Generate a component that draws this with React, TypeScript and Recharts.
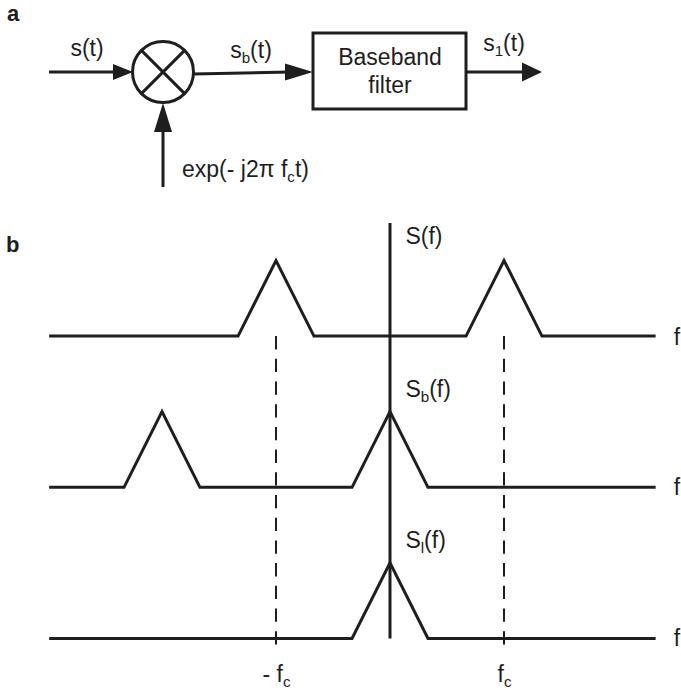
import {
  ComposedChart,
  Line,
  ReferenceArea,
  ReferenceDot,
  ReferenceLine,
  XAxis,
  YAxis,
} from 'recharts';

const INK = '#1e1e1e';
const FONT = '"Liberation Sans", Arial, Helvetica, sans-serif';

// ---- panel a: block diagram (grid units, y grows downward) ----
const signalPaths = [
  [{ x: 49, y: 72 }, { x: 118, y: 72 }], // s(t) into mixer
  [{ x: 193.5, y: 74 }, { x: 290, y: 72 }], // sb(t) into filter
  [{ x: 466, y: 72 }, { x: 526, y: 72 }], // s1(t) out
  [{ x: 163, y: 187 }, { x: 163, y: 115 }], // oscillator
];
const arrowTips = [
  { x: 133, y: 72, dir: 0, len: 20, half: 8 },
  { x: 313, y: 72, dir: 0, len: 28, half: 8.5 },
  { x: 542, y: 72, dir: 0, len: 20, half: 9.5 },
  { x: 163, y: 103, dir: -90, len: 29, half: 9 },
];
const mixer = { x: 163, y: 72 };
const filterBox = { x1: 313, x2: 466, y1: 33, y2: 109 };
const blockLabels = [
  { text: 'a', x: 7, y: 21, anchor: 'start', bold: true },
  { text: 's(t)', x: 87, y: 56, anchor: 'middle' },
  { text: 's_b(t)', x: 251, y: 58, anchor: 'middle' },
  { text: 'Baseband', x: 390, y: 65, anchor: 'middle' },
  { text: 'filter', x: 390, y: 93, anchor: 'middle' },
  { text: 's_1(t)', x: 504, y: 51, anchor: 'middle' },
  { text: 'exp(- j2\u03c0 f_ct)', x: 182, y: 177, anchor: 'start' },
];

// ---- panel b: spectra, f in units of fc ----
const fStart = -2.99;
const fEnd = 2.33;
const halfWidth = 0.333;
const peak = 1;
const rowOffsets = [4, 2, 0];
const rowCenters = [[-1, 1], [-2, 0], [0]];
const rowNames = ['S(f)', 'S_b(f)', 'S_l(f)'];
const rowNameY = [5.218, 3.194, 1.197];
const fAxisLabelY = [3.882, 1.898, -0.099];
const fcMarks = [-1, 1];
const fcLabels = ['- f_c', 'f_c'];
const axisTop = 5.496;
const dashBottom = -0.152;

const pxPerF = 114;
const pxPerUnit = 75.6;
const zeroX = 390;
const bottomBase = 438.5; // chart-b pixel row of v = 0

function spectrum(centers: number[], offset: number) {
  const pts = [{ f: fStart, v: offset }];
  centers.forEach((c) => {
    pts.push({ f: c - halfWidth, v: offset });
    pts.push({ f: c, v: offset + peak });
    pts.push({ f: c + halfWidth, v: offset });
  });
  pts.push({ f: fEnd, v: offset });
  return pts;
}

function parse(text: string) {
  const parts: { t: string; sub: boolean }[] = [];
  let buf = '';
  for (let i = 0; i < text.length; i++) {
    if (text[i] === '_' && i + 1 < text.length) {
      if (buf) parts.push({ t: buf, sub: false });
      buf = '';
      parts.push({ t: text[i + 1], sub: true });
      i++;
    } else {
      buf += text[i];
    }
  }
  if (buf) parts.push({ t: buf, sub: false });
  return parts;
}

function MathText(props: any) {
  const { cx, cy, text, anchor = 'start', bold = false, size = 23 } = props;
  let shift = 0;
  return (
    <text
      x={cx}
      y={cy}
      fontFamily={FONT}
      fontSize={size}
      fontWeight={bold ? 'bold' : 'normal'}
      fill={INK}
      textAnchor={anchor}
    >
      {parse(text).map((p, i) => {
        const target = p.sub ? 5 : 0;
        const dy = target - shift;
        shift = target;
        return (
          <tspan key={i} dy={dy} fontSize={p.sub ? size * 0.66 : size}>
            {p.t}
          </tspan>
        );
      })}
    </text>
  );
}

function arrowShape(dir: number, len: number, half: number) {
  return (p: any) => {
    const a = (dir * Math.PI) / 180;
    const ux = Math.cos(a);
    const uy = Math.sin(a);
    const bx = p.cx - ux * len;
    const by = p.cy - uy * len;
    const pts = [
      [p.cx, p.cy],
      [bx - uy * half, by + ux * half],
      [bx + uy * half, by - ux * half],
    ];
    return <polygon points={pts.map((q) => q.join(',')).join(' ')} fill={INK} />;
  };
}

function BlockDiagram() {
  const d = 21.6;
  return (
    <ComposedChart width={681} height={200} margin={{ top: 0, right: 0, bottom: 0, left: 0 }}>
      <XAxis hide type="number" dataKey="x" domain={[0, 681]} allowDataOverflow />
      <YAxis hide type="number" domain={[0, 200]} reversed allowDataOverflow />
      <ReferenceArea
        x1={filterBox.x1}
        x2={filterBox.x2}
        y1={filterBox.y1}
        y2={filterBox.y2}
        fill="none"
        stroke={INK}
        strokeWidth={3}
        fillOpacity={0}
        strokeOpacity={1}
      />
      {signalPaths.map((pts, i) => (
        <Line
          key={i}
          data={pts}
          dataKey="y"
          type="linear"
          stroke={INK}
          strokeWidth={3}
          dot={false}
          activeDot={false}
          isAnimationActive={false}
        />
      ))}
      <ReferenceDot x={mixer.x} y={mixer.y} r={30.5} fill="none" stroke={INK} strokeWidth={3} />
      <ReferenceLine
        segment={[{ x: mixer.x - d, y: mixer.y - d }, { x: mixer.x + d, y: mixer.y + d }]}
        stroke={INK}
        strokeWidth={3}
      />
      <ReferenceLine
        segment={[{ x: mixer.x - d, y: mixer.y + d }, { x: mixer.x + d, y: mixer.y - d }]}
        stroke={INK}
        strokeWidth={3}
      />
      {arrowTips.map((a, i) => (
        <ReferenceDot key={`ar${i}`} x={a.x} y={a.y} r={1} shape={arrowShape(a.dir, a.len, a.half)} />
      ))}
      {blockLabels.map((l, i) => (
        <ReferenceDot
          key={`lb${i}`}
          x={l.x}
          y={l.y}
          r={1}
          shape={(p: any) => (
            <MathText cx={p.cx} cy={p.cy} text={l.text} anchor={l.anchor} bold={l.bold} size={l.bold ? 22 : 23} />
          )}
        />
      ))}
    </ComposedChart>
  );
}

function Spectra() {
  const w = 681;
  const h = 492;
  const fDomain = [-zeroX / pxPerF, (w - zeroX) / pxPerF];
  const vDomain = [(bottomBase - h) / pxPerUnit, bottomBase / pxPerUnit];
  return (
    <ComposedChart width={w} height={h} margin={{ top: 0, right: 0, bottom: 0, left: 0 }}>
      <XAxis hide type="number" dataKey="f" domain={fDomain} allowDataOverflow />
      <YAxis hide type="number" domain={vDomain} allowDataOverflow />
      {fcMarks.map((m, i) => (
        <ReferenceLine
          key={`fc${i}`}
          segment={[{ x: m, y: rowOffsets[0] }, { x: m, y: dashBottom }]}
          stroke={INK}
          strokeWidth={2}
          strokeDasharray="13.3 9.4"
        />
      ))}
      <ReferenceLine
        segment={[{ x: 0, y: 0 }, { x: 0, y: axisTop }]}
        stroke={INK}
        strokeWidth={3}
      />
      {rowCenters.map((c, i) => (
        <Line
          key={`row${i}`}
          data={spectrum(c, rowOffsets[i])}
          dataKey="v"
          type="linear"
          stroke={INK}
          strokeWidth={3}
          strokeLinejoin="miter"
          dot={false}
          activeDot={false}
          isAnimationActive={false}
        />
      ))}
      {rowNames.map((n, i) => (
        <ReferenceDot
          key={`nm${i}`}
          x={0.135}
          y={rowNameY[i]}
          r={1}
          shape={(p: any) => <MathText cx={p.cx} cy={p.cy} text={n} />}
        />
      ))}
      {fAxisLabelY.map((y, i) => (
        <ReferenceDot
          key={`fl${i}`}
          x={2.49}
          y={y}
          r={1}
          shape={(p: any) => <MathText cx={p.cx} cy={p.cy} text="f" />}
        />
      ))}
      {fcMarks.map((m, i) => (
        <ReferenceDot
          key={`fcl${i}`}
          x={m + 0.005}
          y={-0.575}
          r={1}
          shape={(p: any) => <MathText cx={p.cx} cy={p.cy} text={fcLabels[i]} anchor="middle" />}
        />
      ))}
      <ReferenceDot
        x={-3.368}
        y={5.112}
        r={1}
        shape={(p: any) => <MathText cx={p.cx} cy={p.cy} text="b" bold size={22} />}
      />
    </ComposedChart>
  );
}

export default function App() {
  return (
    <div style={{ position: 'absolute', left: 0, top: 0, width: 681, height: 692, background: '#fff' }}>
      <div style={{ position: 'absolute', left: 0, top: 0 }}>
        <BlockDiagram />
      </div>
      <div style={{ position: 'absolute', left: 0, top: 200 }}>
        <Spectra />
      </div>
    </div>
  );
}
